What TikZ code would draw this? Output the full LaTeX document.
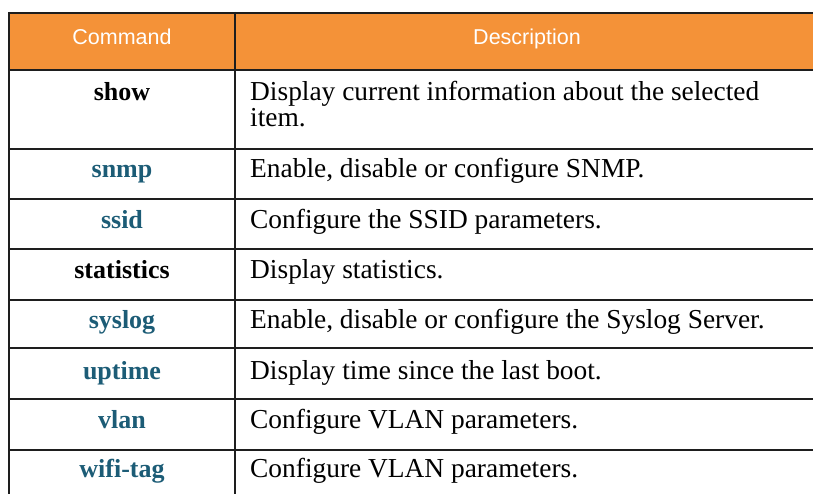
\documentclass[tikz,border=0pt]{standalone}
\usepackage{fontspec}
\setmainfont{Liberation Serif}
\setsansfont{Liberation Sans}
\definecolor{HdrOrange}{RGB}{244,146,56}
\definecolor{CmdTeal}{RGB}{28,92,118}
\definecolor{RuleGray}{RGB}{30,30,30}

\begin{document}
\begin{tikzpicture}[x=1pt,y=-1pt,
rule/.style={draw=RuleGray,line width=2pt},
hdr/.style={font=\fontsize{21.5}{25}\sffamily,text=white,anchor=base,inner sep=0pt},
cmd/.style={font=\fontsize{26}{28}\selectfont\bfseries,anchor=base,inner sep=0pt},
link/.style={cmd,text=CmdTeal},
desc/.style={font=\fontsize{27.4}{26}\selectfont,anchor=base west,align=left,inner sep=0pt}]

\useasboundingbox (0,0) rectangle (813,494);

% header band and grid
\fill[HdrOrange] (9,13) rectangle (816,70);
\draw[rule] (9,13) -- (816,13);
\draw[rule,line width=2.6pt] (9,70) -- (816,70);
\foreach \y in {149,199,249,300,348,399,450}
  \draw[rule] (9,\y) -- (816,\y);
\draw[rule] (9,12) -- (9,500);
\draw[rule] (235,12) -- (235,500);

\node[hdr] (hcmd) at (122,45) {Command};
\node[hdr] (hdesc) at (527,45) {Description};

% base of a two-line node is its last line
\node[cmd] (cshow) at (122,101) {show};
\node[desc] (dshow) at (250,127) {Display current information about the selected\\item.};
\node[link] (csnmp) at (122,178) {snmp};
\node[desc] (dsnmp) at (250,178) {Enable, disable or configure SNMP.};
\node[link] (cssid) at (122,229) {ssid};
\node[desc] (dssid) at (250,229) {Configure the SSID parameters.};
\node[cmd] (cstat) at (122,278) {statistics};
\node[desc] (dstat) at (250,278) {Display statistics.};
\node[link] (csyslog) at (122,328) {syslog};
\node[desc] (dsyslog) at (250,328) {Enable, disable or configure the Syslog Server.};
\node[link] (cuptime) at (122,379) {uptime};
\node[desc] (duptime) at (250,379) {Display time since the last boot.};
\node[link] (cvlan) at (122,428) {vlan};
\node[desc] (dvlan) at (250,428) {Configure VLAN parameters.};
\node[link] (cwifi) at (122,477) {wifi-tag};
\node[desc] (dwifi) at (250,477) {Configure VLAN parameters.};

\end{tikzpicture}
\end{document}
